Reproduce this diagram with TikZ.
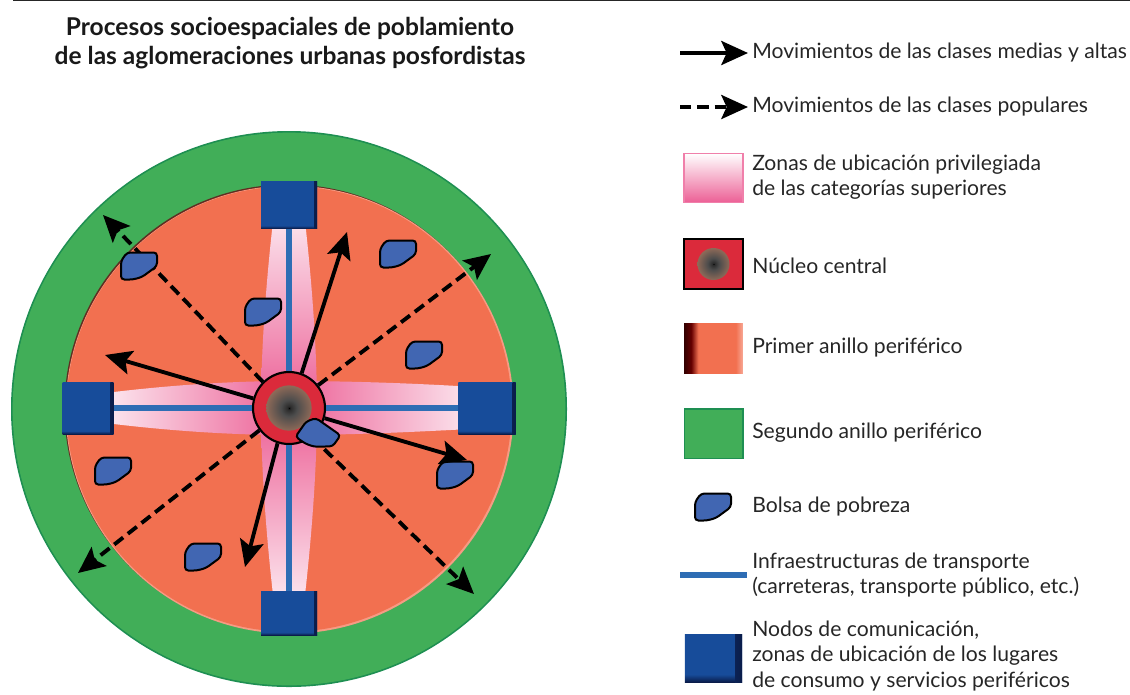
\documentclass[tikz,border=0pt]{standalone}
\usepackage{fontspec}
\setmainfont{Lato}
\usetikzlibrary{arrows.meta, calc}

\definecolor{verde}{HTML}{41AE58}
\definecolor{verdeosc}{HTML}{1E8F52}
\definecolor{salmon}{HTML}{F27050}
\definecolor{rosa}{HTML}{EC5F95}
\definecolor{rojo}{HTML}{DB2A3B}
\definecolor{azul}{HTML}{2E6DB4}
\definecolor{nodoazul}{HTML}{174C9A}
\definecolor{nodoosc}{HTML}{0A1C4A}
\definecolor{bolsaazul}{HTML}{4166B2}
\definecolor{foco1}{HTML}{2A2A2A}
\definecolor{foco2}{HTML}{4C4C4C}
\definecolor{foco3}{HTML}{8E6A58}

\pgfdeclareradialshading{nucleo}{\pgfpointorigin}{color(0bp)=(black); color(1.5bp)=(foco1); color(9bp)=(foco2); color(25bp)=(foco3); color(100bp)=(foco3)}
\pgfdeclarehorizontalshading{primer}{100bp}{color(0bp)=(black!80!red); color(25bp)=(black!80!red); color(31bp)=(black!60!red); color(37bp)=(salmon); color(69bp)=(salmon); color(75bp)=(salmon!60!white); color(100bp)=(salmon!60!white)}
% el nodo grande de la leyenda y los del plano
\pgfdeclareverticalshading{nodofino}{100bp}{color(0bp)=(nodoosc); color(25bp)=(nodoosc); color(28bp)=(nodoazul); color(100bp)=(nodoazul)}
\pgfdeclareverticalshading{nodoley}{100bp}{color(0bp)=(nodoosc); color(25bp)=(nodoosc); color(33bp)=(nodoazul); color(100bp)=(nodoazul)}
\pgfdeclarehorizontalshading{bandafino}{100bp}{color(0bp)=(nodoazul); color(25bp)=(nodoazul); color(75bp)=(nodoosc); color(100bp)=(nodoosc)}

\tikzset{
    bolsa/.pic = {\draw[black, fill=bolsaazul, line width=1.5pt, rounded corners=2.5pt]
        (-12,-13.5) -- (18,-13.5) -- (18,0) -- (3,11) -- (-6,13.5) -- (-18,13.5) -- (-18,-5) -- cycle;}
}

\begin{document}
\begin{tikzpicture}[x=.75pt, y=-.75pt,
        texto/.style = {anchor=west, align=left, inner sep=0pt, font=\fontsize{15.85}{19.1}\selectfont, text=black!85},
        titulo/.style = {align=center, inner sep=0pt, font=\fontsize{18.4}{21.7}\selectfont\bfseries, text=black!90},
        nodo/.style = {rectangle, inner sep=0pt, shading=nodofino, path picture={
            \shade[shading=bandafino] ($(path picture bounding box.north east)+(-#1,0)$) rectangle (path picture bounding box.south east);}},
        nodo/.default = 3,
        muestra/.style = {rectangle, inner sep=0pt, minimum width=44pt, minimum height=37pt},
        anillo/.style = {circle, inner sep=0pt},
        medias/.style = {-{Stealth[length=20pt, width=18pt, inset=4pt]}, line width=2.9pt},
        populares/.style = {medias, dash pattern=on 8.5pt off 4.5pt},
        via/.style = {azul, line width=3.8pt},
        petalo/.style = {draw=none}]
    \useasboundingbox (0,0) rectangle (1130,694);

    \coordinate (raya1) at (13,0.5);
    \coordinate (raya2) at (1130,0.5);
    \draw[black!85, line width=1.2pt] (raya1) -- (raya2);
    \node[titulo] (T) at (290,43) {Procesos socioespaciales de poblamiento\\de las aglomeraciones urbanas posfordistas};

    % anillos
    \node[anillo, fill=verdeosc, minimum size=417pt] (borde) at (289,409) {};
    \node[anillo, fill=verde, minimum size=414.5pt] (segundo) at (289,409) {};
    \node[anillo, fill=black!60!salmon, minimum size=336pt] (sombra) at (288.4,408.4) {};
    \node[anillo, fill=salmon!70!white, minimum size=336pt] (luz) at (289.6,409.6) {};
    \node[anillo, fill=salmon, minimum size=334pt] (primer) at (289,409) {};

    % zonas privilegiadas
    \shade[petalo, top color=white!93!rosa, bottom color=rosa] (276,196) .. controls (268,260) and (261,340) .. (261,408) -- (317,408) .. controls (317,340) and (310,260) .. (302,196) -- cycle;
    \shade[petalo, bottom color=white!93!rosa, top color=rosa] (276,620) .. controls (268,556) and (261,476) .. (261,408) -- (317,408) .. controls (317,476) and (310,556) .. (302,620) -- cycle;
    \shade[petalo, left color=white!93!rosa, right color=rosa] (90,395) .. controls (150,387) and (220,381) .. (289,381) -- (289,435) .. controls (220,435) and (150,429) .. (90,421) -- cycle;
    \shade[petalo, right color=white!93!rosa, left color=rosa] (490,388) .. controls (430,384) and (360,381) .. (289,381) -- (289,435) .. controls (360,435) and (430,431) .. (490,428) -- cycle;

    % nodos de comunicacion
    \node[nodo, minimum width=42pt, minimum height=35pt] (N) at (289,205) {};
    \node[nodo, minimum width=42pt, minimum height=33pt] (S) at (289,613) {};
    \node[nodo, minimum width=38pt, minimum height=39pt] (O) at (88,408) {};
    \node[nodo, minimum width=43pt, minimum height=39pt] (E) at (487,408) {};

    % nucleo central
    \node[anillo, draw=black, fill=rojo, line width=1.6pt, minimum size=54pt] (centro) at (289,408) {};
    \node[anillo, shading=nucleo, minimum size=34pt] (foco) at (289,408) {};

    \draw[via] (N) -- (centro);
    \draw[via] (S) -- (centro);
    \draw[via] (O) -- (centro);
    \draw[via] (E) -- (centro);

    % bolsas de pobreza
    \pic (b2) at (398,254) {bolsa};
    \pic (b3) at (263,312) {bolsa};
    \pic (b4) at (424,355) {bolsa};
    \pic (b5) at (113,471) {bolsa};
    \pic (b6) at (455,475) {bolsa};
    \pic (b7) at (203,557) {bolsa};

    % movimientos
    \coordinate (m1) at (347,232);
    \coordinate (m2) at (105,355);
    \coordinate (m3) at (467,460);
    \coordinate (m4) at (245,567);
    \coordinate (p1) at (103,215);
    \coordinate (p2) at (491,254);
    \coordinate (p3) at (78,573);
    \coordinate (p4) at (474,594);
    \draw[medias] (centro.70) -- (m1);
    \draw[medias] (centro.165) -- (m2);
    \draw[medias] (centro.-16) -- (m3);
    \draw[medias] (centro.-108) -- (m4);
    \draw[populares] (centro.135) -- (p1);
    \draw[populares] (centro.38) -- (p2);
    \draw[populares] (centro.-143) -- (p3);
    \draw[populares] (centro.-52) -- (p4);
    \pic (b1) at (139,266) {bolsa};
    \pic[rotate=-35] (b8) at (318,436) {bolsa};

    % leyenda
    \coordinate (a1) at (680,53);
    \coordinate (a2) at (748,53);
    \coordinate (a3) at (680,107);
    \coordinate (a4) at (748,107);
    \draw[medias] (a1) -- (a2);
    \draw[populares] (a3) -- (a4);
    \node[texto] (t1) at (752,53) {Movimientos de las clases medias y altas};
    \node[texto] (t2) at (752,107) {Movimientos de las clases populares};

    \node[muestra, draw=rosa!80!white, line width=1.2pt, top color=white, bottom color=rosa] (z) at (713.5,178) {};
    \node[texto] (t3) at (752,177) {Zonas de ubicación privilegiada\\de las categorías superiores};

    \node[muestra, draw=black, fill=rojo, line width=1.3pt] (c) at (713.5,264) {};
    \node[anillo, shading=nucleo, minimum size=24pt] (cf) at (713.5,264) {};
    \node[texto] (t4) at (752,266) {Núcleo central};

    \node[muestra, shading=primer] (p) at (713.5,348.5) {};
    \node[texto] (t5) at (752,348) {Primer anillo periférico};

    \node[muestra, draw=verdeosc, fill=verde, line width=1pt] (s) at (713.5,433.5) {};
    \node[texto] (t6) at (752,433) {Segundo anillo periférico};

    \pic (bl) at (713,507) {bolsa};
    \node[texto] (t7) at (752,507) {Bolsa de pobreza};

    \coordinate (i1) at (680,575);
    \coordinate (i2) at (747,575);
    \draw[via] (i1) -- (i2);
    \node[texto] (t8) at (752,575) {Infraestructuras de transporte\\(carreteras, transporte público, etc.)};

    \node[nodo=7, shading=nodoley, minimum width=43pt, minimum height=36pt] (n) at (713.5,658) {};
    \node[texto] (t9) at (752,656) {Nodos de comunicación,\\zonas de ubicación de los lugares\\de consumo y servicios periféricos};
\end{tikzpicture}
\end{document}
